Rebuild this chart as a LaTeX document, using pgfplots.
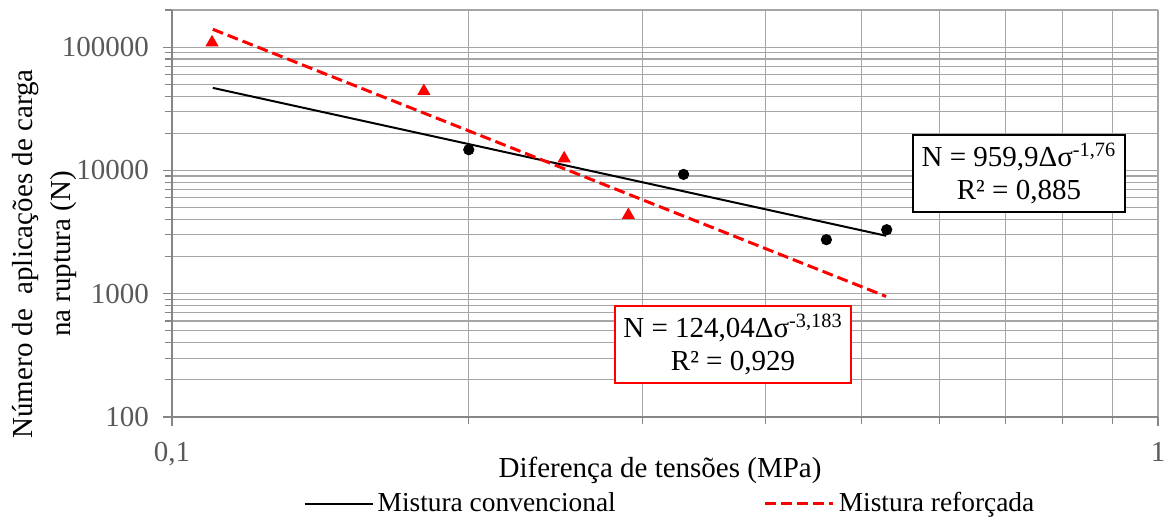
\documentclass[border=0pt]{standalone}
\usepackage{pgfplots}
\pgfplotsset{compat=1.18}
\usepackage{fontspec}
\setmainfont{Liberation Serif}
\definecolor{axgray}{HTML}{868686}
\definecolor{gridgray}{HTML}{A6A6A6}
\definecolor{lblgray}{HTML}{595959}
\begin{document}
\begin{tikzpicture}
\useasboundingbox (-86pt,-50.5pt) rectangle (497pt,208.5pt);
\begin{axis}[
  scale only axis, width=493pt, height=203.5pt,
  xmode=log, ymode=log,
  xmin=0.1, xmax=1, ymin=100, ymax=200000,
  axis lines*=left,
  axis line style={axgray, line width=0.8pt},
  xtick={0.1,1}, xticklabels={{0,1},1},
  ytick={100,1000,10000,100000}, yticklabels={100,1000,10000,100000},
  minor xtick={0.2,0.3,0.4,0.5,0.6,0.7,0.8,0.9},
  minor ytick={200,300,400,500,600,700,800,900,2000,3000,4000,5000,6000,7000,8000,9000,20000,30000,40000,50000,60000,70000,80000,90000,200000},
  grid=both,
  major grid style={gridgray, line width=0.6pt},
  minor grid style={gridgray, line width=0.6pt},
  tick align=outside, major tick length=4.5pt, minor tick length=3.5pt,
  tick style={axgray, line width=0.6pt},
  ticklabel style={font=\fontsize{14.5}{17}\selectfont, text=lblgray},
  xticklabel style={yshift=-4.5pt},
  yticklabel style={xshift=-3.5pt},
  label style={font=\fontsize{14.5}{19}\selectfont},
  xlabel={Diferença de tensões (MPa)},
  xlabel style={at={(axis description cs:0.495,-0.130)}, anchor=center},
  ylabel={Número de\ \ aplicações de carga\\na ruptura (N)},
  ylabel style={align=center, at={(axis description cs:-0.129,0.4005)}, anchor=center},
  legend style={at={(axis description cs:0.5061,-0.213)}, anchor=center, draw=none,
    font=\fontsize{13.7}{16}\selectfont, legend columns=2,
    /tikz/every even column/.append style={column sep=72pt}},
  legend image code/.code={\draw[#1] (0pt,0pt) -- (34pt,0pt);},
  clip=false,
]
\addplot[only marks, mark=*, mark size=2.6pt, black, forget plot] coordinates {
  (0.200,14720) (0.3303,9283) (0.461,2742) (0.5307,3304)};
\addplot[only marks, mark=triangle*, mark size=3.4pt, red, forget plot] coordinates {
  (0.1098,109000) (0.1801,43950) (0.2499,12500) (0.2903,4340)};
\addplot[black, line width=1pt] coordinates {(0.11,46700) (0.53,2950)};
\addlegendentry{Mistura convencional}
\addplot[red, line width=1.5pt, dash pattern=on 5.5pt off 2.5pt] coordinates {(0.11,139500) (0.53,950)};
\addlegendentry{Mistura reforçada}
\node[draw=black, line width=0.8pt, fill=white, align=center, inner sep=3pt,
  minimum width=106pt, minimum height=38.5pt, font=\fontsize{14.5}{16.5}\selectfont]
  at (rel axis cs:0.859,0.598) {N = 959,9Δσ\textsuperscript{-1,76}\\R² = 0,885};
\node[draw=red, line width=0.8pt, fill=white, align=center, inner sep=3pt,
  minimum width=118pt, minimum height=38.5pt, font=\fontsize{14.5}{16.5}\selectfont]
  at (rel axis cs:0.569,0.178) {N = 124,04Δσ\textsuperscript{-3,183}\\R² = 0,929};
\end{axis}
\end{tikzpicture}
\end{document}
